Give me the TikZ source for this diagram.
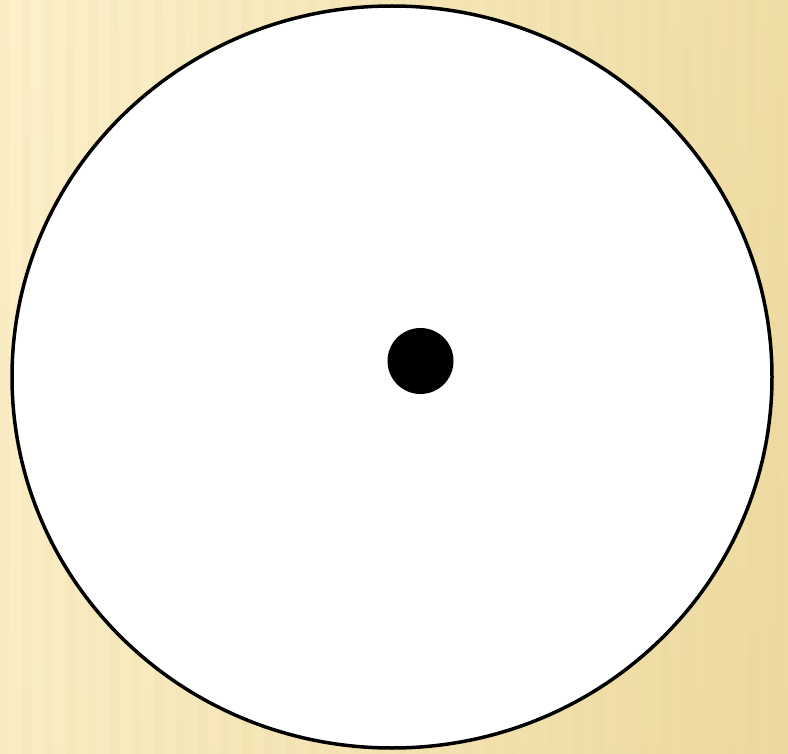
\documentclass[tikz,border=0pt]{standalone}
\usepackage{tikz}
\usetikzlibrary{calc}

\definecolor{paperlight}{HTML}{FDF1CB}
\definecolor{paperdark}{HTML}{EAD597}

\begin{document}
\begin{tikzpicture}[
    x=1pt, y=-1pt,
    stripe/.style={fill=paperdark, opacity=0.12},
    rim/.style={draw=black, line width=3.5pt, fill=white},
    hub/.style={fill=black},
]
  % background
  \shade[top color=paperlight, bottom color=paperlight!55!paperdark] (0,0) rectangle (788,754);
  \shade[left color=paperlight, right color=paperdark, opacity=0.7] (0,0) rectangle (788,754);
  \foreach \sx in {0,22,...,780}
    \fill[stripe] (\sx,0) rectangle ++(9,754);
  \useasboundingbox (0,0) rectangle (788,754);

  % disc and centre
  \draw[rim] (392,377) ellipse [x radius=380, y radius=371];
  \fill[hub] (420.5,361) circle (33);
\end{tikzpicture}
\end{document}
